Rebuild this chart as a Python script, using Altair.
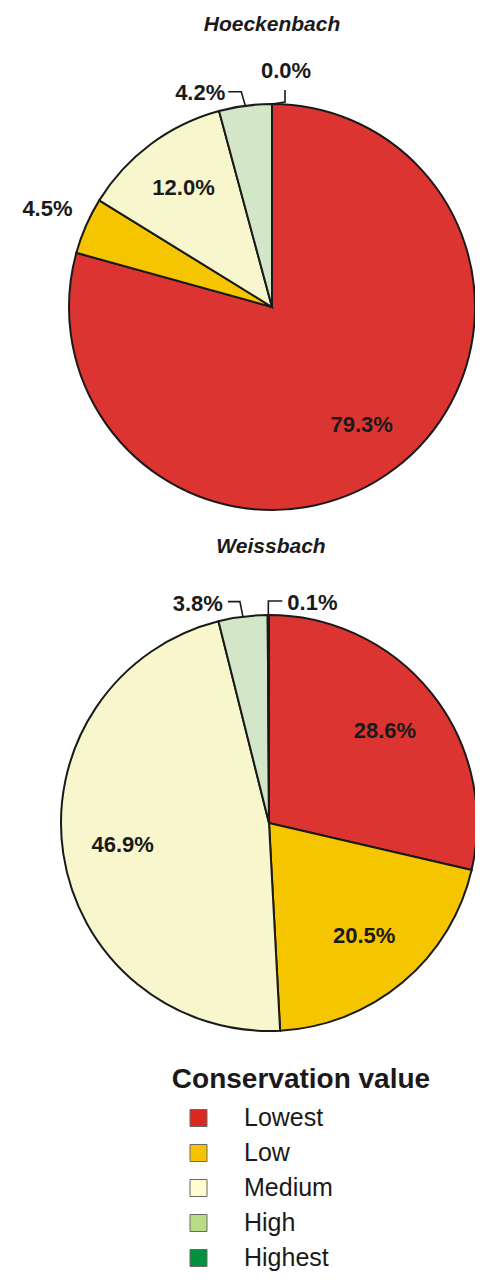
import math
import altair as alt
import pandas as pd

# ---------------- data ----------------
sites = ["Hoeckenbach", "Weissbach"]
classes = ["Lowest", "Low", "Medium", "High", "Highest"]
hoeckenbach_pct = [79.3, 4.5, 12.0, 4.2, 0.0]
weissbach_pct = [28.6, 20.5, 46.9, 3.8, 0.1]
legend_title = "Conservation value"

# ---------------- style ----------------
pie_colors = ["#dc3531", "#f5c500", "#f8f6cd", "#d3e7c8", "#00933f"]
legend_colors = ["#d92a22", "#f7c300", "#fffcd0", "#b8dc84", "#00933f"]
INK = "#1a1a1a"
FONT = "Liberation Sans"
M = 8                      # page margin
W, H = 467, 1267

layout = {
    "Hoeckenbach": dict(cx=272, cy=307, r=203, ty=25, tx=272,
                        place=["in", "out", "in", "leadL", "leadUp"]),
    "Weissbach": dict(cx=269, cy=823, r=208, ty=547, tx=271,
                      place=["in", "in", "in", "leadL", "leadR"]),
}
IN_R = 148
OUT_R = 245
# leader geometry relative to anchor point on the rim: elbow, end, label, align
leaders = {
    ("Hoeckenbach", "leadL"): [(-4, -14), (-17, -14), (-20, -13), "right"],
    ("Hoeckenbach", "leadUp"): [(13, -2), (13, -14), (14, -33), "center"],
    ("Weissbach", "leadL"): [(-3, -15), (-15, -15), (-20, -13), "right"],
    ("Weissbach", "leadR"): [(0, -14), (14, -14), (19, -12), "left"],
}

values = {"Hoeckenbach": hoeckenbach_pct, "Weissbach": weissbach_pct}

slice_rows, lead_pts, lead_lbl, title_rows = [], [], [], []
for s in sites:
    v = values[s]
    tot = sum(v)
    cum = 0.0
    L = layout[s]
    for c, val, place in zip(classes, v, L["place"]):
        start = cum / tot * 100
        cum += val
        end = cum / tot * 100
        mid = (start + end) / 2
        slice_rows.append(dict(site=s, cls=c, start=start, end=end, mid=mid,
                               label=f"{val:.1f}%", place=place))
        if place.startswith("lead"):
            a = mid / 100 * 2 * math.pi
            ax = L["cx"] + L["r"] * math.sin(a) - M
            ay = L["cy"] - L["r"] * math.cos(a) - M
            e1, e2, lp, al = leaders[(s, place)]
            for i, (dx, dy) in enumerate([(0, 0), e1, e2]):
                lead_pts.append(dict(key=s + c, i=i, px=ax + dx, py=ay + dy))
            lead_lbl.append(dict(label=f"{val:.1f}%", px=ax + lp[0], py=ay + lp[1], align=al))
    title_rows.append(dict(site=s, px=L["tx"] - M, py=L["ty"] - M))

df = pd.DataFrame(slice_rows)
lead_df = pd.DataFrame(lead_pts)
lbl_df = pd.DataFrame(lead_lbl)
title_df = pd.DataFrame(title_rows)

leg_y = [1118, 1153, 1188, 1223, 1258]
legend_df = pd.DataFrame(dict(cls=classes, col=legend_colors,
                              py=[y - M for y in leg_y]))

theta_scale = alt.Scale(domain=[0, 100], range=[0, 2 * math.pi])
xs = alt.Scale(domain=[0, W], range=[0, W], nice=False, zero=False)
ys = alt.Scale(domain=[0, H], range=[0, H], nice=False, zero=False)
color_scale = alt.Scale(domain=classes, range=pie_colors)

layers = []
for s in sites:
    L = layout[s]
    sub = df[df.site == s]
    base = alt.Chart(sub)
    arcs = base.mark_arc(radius=L["r"], stroke=INK, strokeWidth=2, strokeJoin="miter").encode(
        theta=alt.Theta("start:Q", stack=None, scale=theta_scale),
        theta2="end:Q",
        color=alt.Color("cls:N", scale=color_scale, legend=None),
        x=alt.value(L["cx"] - M), y=alt.value(L["cy"] - M),
    )
    inner = base.transform_filter(alt.datum.place == "in").mark_text(
        font=FONT, fontSize=22, fontWeight="bold", color=INK, baseline="middle"
    ).encode(
        theta=alt.Theta("mid:Q", stack=None, scale=theta_scale),
        radius=alt.value(IN_R), text="label:N",
        x=alt.value(L["cx"] - M), y=alt.value(L["cy"] - M),
    )
    outer = base.transform_filter(alt.datum.place == "out").mark_text(
        font=FONT, fontSize=22, fontWeight="bold", color=INK, baseline="middle"
    ).encode(
        theta=alt.Theta("mid:Q", stack=None, scale=theta_scale),
        radius=alt.value(OUT_R), text="label:N",
        x=alt.value(L["cx"] - M), y=alt.value(L["cy"] - M),
    )
    layers += [arcs, inner, outer]

lines = alt.Chart(lead_df).mark_line(color=INK, strokeWidth=1.6).encode(
    x=alt.X("px:Q", scale=xs, axis=None),
    y=alt.Y("py:Q", scale=ys, axis=None),
    detail="key:N", order="i:Q",
)
layers.append(lines)
for al in ["left", "right", "center"]:
    layers.append(
        alt.Chart(lbl_df).transform_filter(alt.datum.align == al).mark_text(
            font=FONT, fontSize=22, fontWeight="bold", color=INK, align=al, baseline="middle"
        ).encode(x=alt.X("px:Q", scale=xs, axis=None), y=alt.Y("py:Q", scale=ys, axis=None), text="label:N")
    )

titles = alt.Chart(title_df).mark_text(
    font=FONT, fontSize=21, fontWeight="bold", fontStyle="italic", color=INK, baseline="middle"
).encode(x=alt.X("px:Q", scale=xs, axis=None), y=alt.Y("py:Q", scale=ys, axis=None), text="site:N")
layers.append(titles)

leg_title = alt.Chart(pd.DataFrame(dict(t=[legend_title], px=[301 - M], py=[1080 - M]))).mark_text(
    font=FONT, fontSize=28, fontWeight="bold", color=INK, baseline="middle"
).encode(x=alt.X("px:Q", scale=xs, axis=None), y=alt.Y("py:Q", scale=ys, axis=None), text="t:N")
leg_sq = alt.Chart(legend_df).mark_square(size=289, stroke="#6a6a6a", strokeWidth=1, opacity=1).encode(
    x=alt.value(198.5 - M), y=alt.Y("py:Q", scale=ys, axis=None),
    fill=alt.Fill("col:N", scale=None),
)
leg_txt = alt.Chart(legend_df).mark_text(
    font=FONT, fontSize=25, color=INK, align="left", baseline="middle"
).encode(x=alt.value(244 - M), y=alt.Y("py:Q", scale=ys, axis=None), text="cls:N")
layers += [leg_title, leg_sq, leg_txt]

chart = alt.layer(*layers).properties(
    width=W, height=H, padding=0, autosize="none"
).configure_view(stroke=None)

chart.save("out.html", embed_options={"renderer": "svg", "actions": False})
